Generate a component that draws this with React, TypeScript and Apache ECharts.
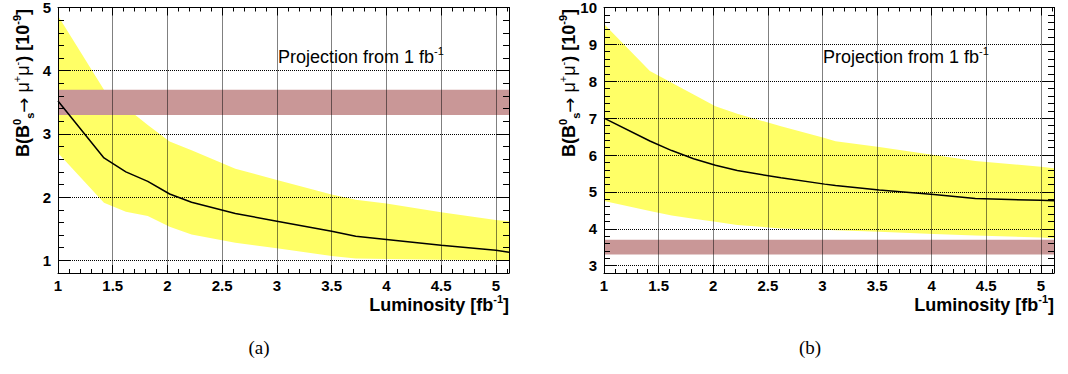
import React, { useEffect, useRef } from 'react';
import * as echarts from 'echarts';

const FONT = '"Liberation Sans", Arial, Helvetica, sans-serif';
const SERIF = '"Liberation Serif", "DejaVu Serif", serif';

// Panel (a)
const lumA = [1.0, 1.42, 1.62, 1.82, 2.02, 2.22, 2.62, 3.0, 3.5, 3.72, 4.0, 4.5, 5.0, 5.12];
const centralA = [3.52, 2.62, 2.4, 2.25, 2.05, 1.92, 1.74, 1.62, 1.46, 1.38, 1.33, 1.24, 1.16, 1.13];
const upperA = [4.87, 3.7, 3.42, 3.14, 2.88, 2.74, 2.45, 2.27, 2.04, 1.96, 1.9, 1.76, 1.64, 1.62];
const lowerA = [2.7, 1.91, 1.77, 1.7, 1.53, 1.41, 1.28, 1.19, 1.07, 1.03, 1.02, 1.01, 1.0, 1.0];

// Panel (b)
const lumB = [1.0, 1.42, 1.62, 1.82, 2.02, 2.22, 2.62, 3.02, 3.12, 3.52, 4.02, 4.4, 5.0, 5.12];
const centralB = [7.0, 6.38, 6.12, 5.9, 5.72, 5.58, 5.38, 5.21, 5.17, 5.05, 4.93, 4.82, 4.77, 4.76];
const upperB = [9.55, 8.28, 7.96, 7.64, 7.32, 7.12, 6.78, 6.46, 6.37, 6.22, 6.0, 5.84, 5.68, 5.64];
const lowerB = [4.75, 4.48, 4.36, 4.27, 4.19, 4.1, 4.01, 3.97, 3.96, 3.92, 3.86, 3.82, 3.76, 3.74];

// measured band (same in both panels)
const measuredBand = [3.3, 3.7];

// axis ranges
const xRange = [1, 5.12];
const yRangeA = [0.8, 5];
const yRangeB = [2.8, 10];

const tags = ['(a)', '(b)'];
const xTitle = 'Luminosity [fb';
const projText = 'Projection from 1 fb';

const panels = [
  {
    lum: lumA, central: centralA, upper: upperA, lower: lowerA, yRange: yRangeA, ySplit: 5,
    grid: { left: 58, top: 7, width: 451, height: 266 },
    yTitleX: 23, projX: 278, tagX: 259,
  },
  {
    lum: lumB, central: centralB, upper: upperB, lower: lowerB, yRange: yRangeB, ySplit: 7,
    grid: { left: 604, top: 7, width: 450, height: 266 },
    yTitleX: 569, projX: 823, tagX: 810,
  },
];

const isMultiple = (v: number, step: number) => Math.abs(v / step - Math.round(v / step)) < 1e-6;

function mkX(g: number, position: 'bottom' | 'top', main: boolean) {
  return {
    type: 'value', gridIndex: g, position, min: xRange[0], max: xRange[1], interval: 0.5, z: 3,
    axisLine: { show: true, onZero: false, lineStyle: { color: '#000', width: 1 } },
    axisTick: { show: true, inside: true, length: 8, lineStyle: { color: '#000', width: 1 } },
    minorTick: { show: true, splitNumber: 5, length: 4, lineStyle: { color: '#000', width: 1 } },
    axisLabel: {
      show: main, margin: 5, fontSize: 15, fontWeight: 'bold', color: '#000', fontFamily: FONT,
      formatter: (v: number) => (isMultiple(v, 0.5) ? String(v) : ''),
    },
    splitLine: { show: main, lineStyle: { color: '#000', width: 1, type: [1, 1] } },
  };
}

function mkY(g: number, p: any, position: 'left' | 'right', main: boolean) {
  return {
    type: 'value', gridIndex: g, position, min: p.yRange[0], max: p.yRange[1], splitNumber: p.ySplit, z: 3,
    axisLine: { show: true, onZero: false, lineStyle: { color: '#000', width: 1 } },
    axisTick: { show: true, inside: true, length: 12, lineStyle: { color: '#000', width: 1 } },
    minorTick: { show: true, splitNumber: 5, length: 6, lineStyle: { color: '#000', width: 1 } },
    axisLabel: {
      show: main, margin: 7, fontSize: 15, fontWeight: 'bold', color: '#000', fontFamily: FONT,
      formatter: (v: number) => (isMultiple(v, 1) ? String(v) : ''),
    },
    splitLine: { show: main, lineStyle: { color: '#000', width: 1, type: [1, 1] } },
  };
}

const richBold = {
  n: { fontFamily: FONT, fontWeight: 'bold', fontSize: 18, lineHeight: 24, fill: '#000', color: '#000', verticalAlign: 'middle' },
  sup: { fontFamily: FONT, fontWeight: 'bold', fontSize: 11, lineHeight: 11, fill: '#000', color: '#000', verticalAlign: 'top' },
  sub: { fontFamily: FONT, fontWeight: 'bold', fontSize: 11, lineHeight: 11, fill: '#000', color: '#000', verticalAlign: 'bottom' },
  arrow: { fontFamily: '"DejaVu Sans", sans-serif', fontWeight: 'normal', fontSize: 18, lineHeight: 24, fill: '#000', color: '#000', verticalAlign: 'middle' },
  mu: { fontFamily: FONT, fontWeight: 'normal', fontSize: 18, lineHeight: 24, fill: '#000', color: '#000', verticalAlign: 'middle' },
  musup: { fontFamily: FONT, fontWeight: 'normal', fontSize: 11, lineHeight: 11, fill: '#000', color: '#000', verticalAlign: 'top' },
};
const richNormal = {
  n: { fontFamily: FONT, fontWeight: 'normal', fontSize: 18, lineHeight: 24, fill: '#000', color: '#000', verticalAlign: 'middle' },
  sup: { fontFamily: FONT, fontWeight: 'normal', fontSize: 11, lineHeight: 11, fill: '#000', color: '#000', verticalAlign: 'top' },
};

function buildOption() {
  const xAxes: any[] = [];
  const yAxes: any[] = [];
  const series: any[] = [];
  const graphics: any[] = [];

  panels.forEach((p, g) => {
    xAxes.push(mkX(g, 'bottom', true));
    xAxes.push(mkX(g, 'top', false));
    yAxes.push(mkY(g, p, 'left', true));
    yAxes.push(mkY(g, p, 'right', false));

    const xi = 2 * g;
    const yi = 2 * g;

    // yellow uncertainty band
    series.push({
      type: 'custom', xAxisIndex: xi, yAxisIndex: yi, z: 1, silent: true, clip: true,
      encode: { x: 0, y: [1, 2] },
      data: p.lum.map((x: number, i: number) => [x, p.lower[i], p.upper[i]]),
      renderItem: (params: any, api: any) => {
        if (params.dataIndex !== 0) return null;
        const pts: number[][] = [];
        p.lum.forEach((x: number, i: number) => pts.push(api.coord([x, p.upper[i]])));
        for (let i = p.lum.length - 1; i >= 0; i--) pts.push(api.coord([p.lum[i], p.lower[i]]));
        return { type: 'polygon', shape: { points: pts }, style: { fill: '#ffff66', stroke: null } };
      },
    });

    // measured band
    series.push({
      type: 'custom', xAxisIndex: xi, yAxisIndex: yi, z: 2, silent: true, clip: true,
      encode: { x: 0, y: [1, 2] },
      data: [[xRange[0], measuredBand[0], measuredBand[1]]],
      renderItem: (params: any, api: any) => {
        const cs = params.coordSys;
        const top = api.coord([api.value(0), api.value(2)])[1];
        const bot = api.coord([api.value(0), api.value(1)])[1];
        return { type: 'rect', shape: { x: cs.x, y: top, width: cs.width, height: bot - top }, style: { fill: '#c99797', stroke: null } };
      },
    });

    // central line
    series.push({
      type: 'line', xAxisIndex: xi, yAxisIndex: yi, z: 5, silent: true,
      symbol: 'none', showSymbol: false,
      lineStyle: { color: '#000', width: 1.5 },
      data: p.lum.map((x: number, i: number) => [x, p.central[i]]),
    });

    // titles
    graphics.push({
      type: 'text', x: p.yTitleX, y: 9, rotation: Math.PI / 2, z: 10,
      style: {
        text: '{n|B(B}{sup|0}{sub|s}{arrow|\u2192}{mu| \u03bc}{musup|+}{mu|\u03bc}{musup|-}{n|) [10}{sup|-9}{n|]}',
        align: 'right', verticalAlign: 'middle', textAlign: 'right', textVerticalAlign: 'middle',
        rich: richBold,
      },
    });
    graphics.push({
      type: 'text', x: p.grid.left + p.grid.width, y: 305, z: 10,
      style: {
        text: `{n|${xTitle}}{sup|-1}{n|]}`,
        align: 'right', verticalAlign: 'middle', textAlign: 'right', textVerticalAlign: 'middle',
        rich: richBold,
      },
    });
    graphics.push({
      type: 'text', x: p.projX, y: 57, z: 10,
      style: {
        text: `{n|${projText}}{sup|-1}`,
        align: 'left', verticalAlign: 'middle', textAlign: 'left', textVerticalAlign: 'middle',
        rich: richNormal,
      },
    });
    graphics.push({
      type: 'text', x: p.tagX, y: 347, z: 10,
      style: {
        text: tags[g], fontFamily: SERIF, fontSize: 19, fill: '#000',
        align: 'center', verticalAlign: 'middle', textAlign: 'center', textVerticalAlign: 'middle',
      },
    });
  });

  return {
    animation: false,
    backgroundColor: '#fff',
    grid: panels.map((p) => ({ ...p.grid, containLabel: false })),
    xAxis: xAxes,
    yAxis: yAxes,
    series,
    graphic: graphics,
  };
}

export default function App() {
  const ref = useRef<HTMLDivElement>(null);
  useEffect(() => {
    const chart = echarts.init(ref.current as HTMLDivElement, null, { renderer: 'svg' });
    chart.setOption(buildOption() as any);
    return () => chart.dispose();
  }, []);
  return (
    <div
      ref={ref}
      style={{ position: 'absolute', left: 0, top: 0, width: 1068, height: 374, background: '#fff' }}
    />
  );
}
